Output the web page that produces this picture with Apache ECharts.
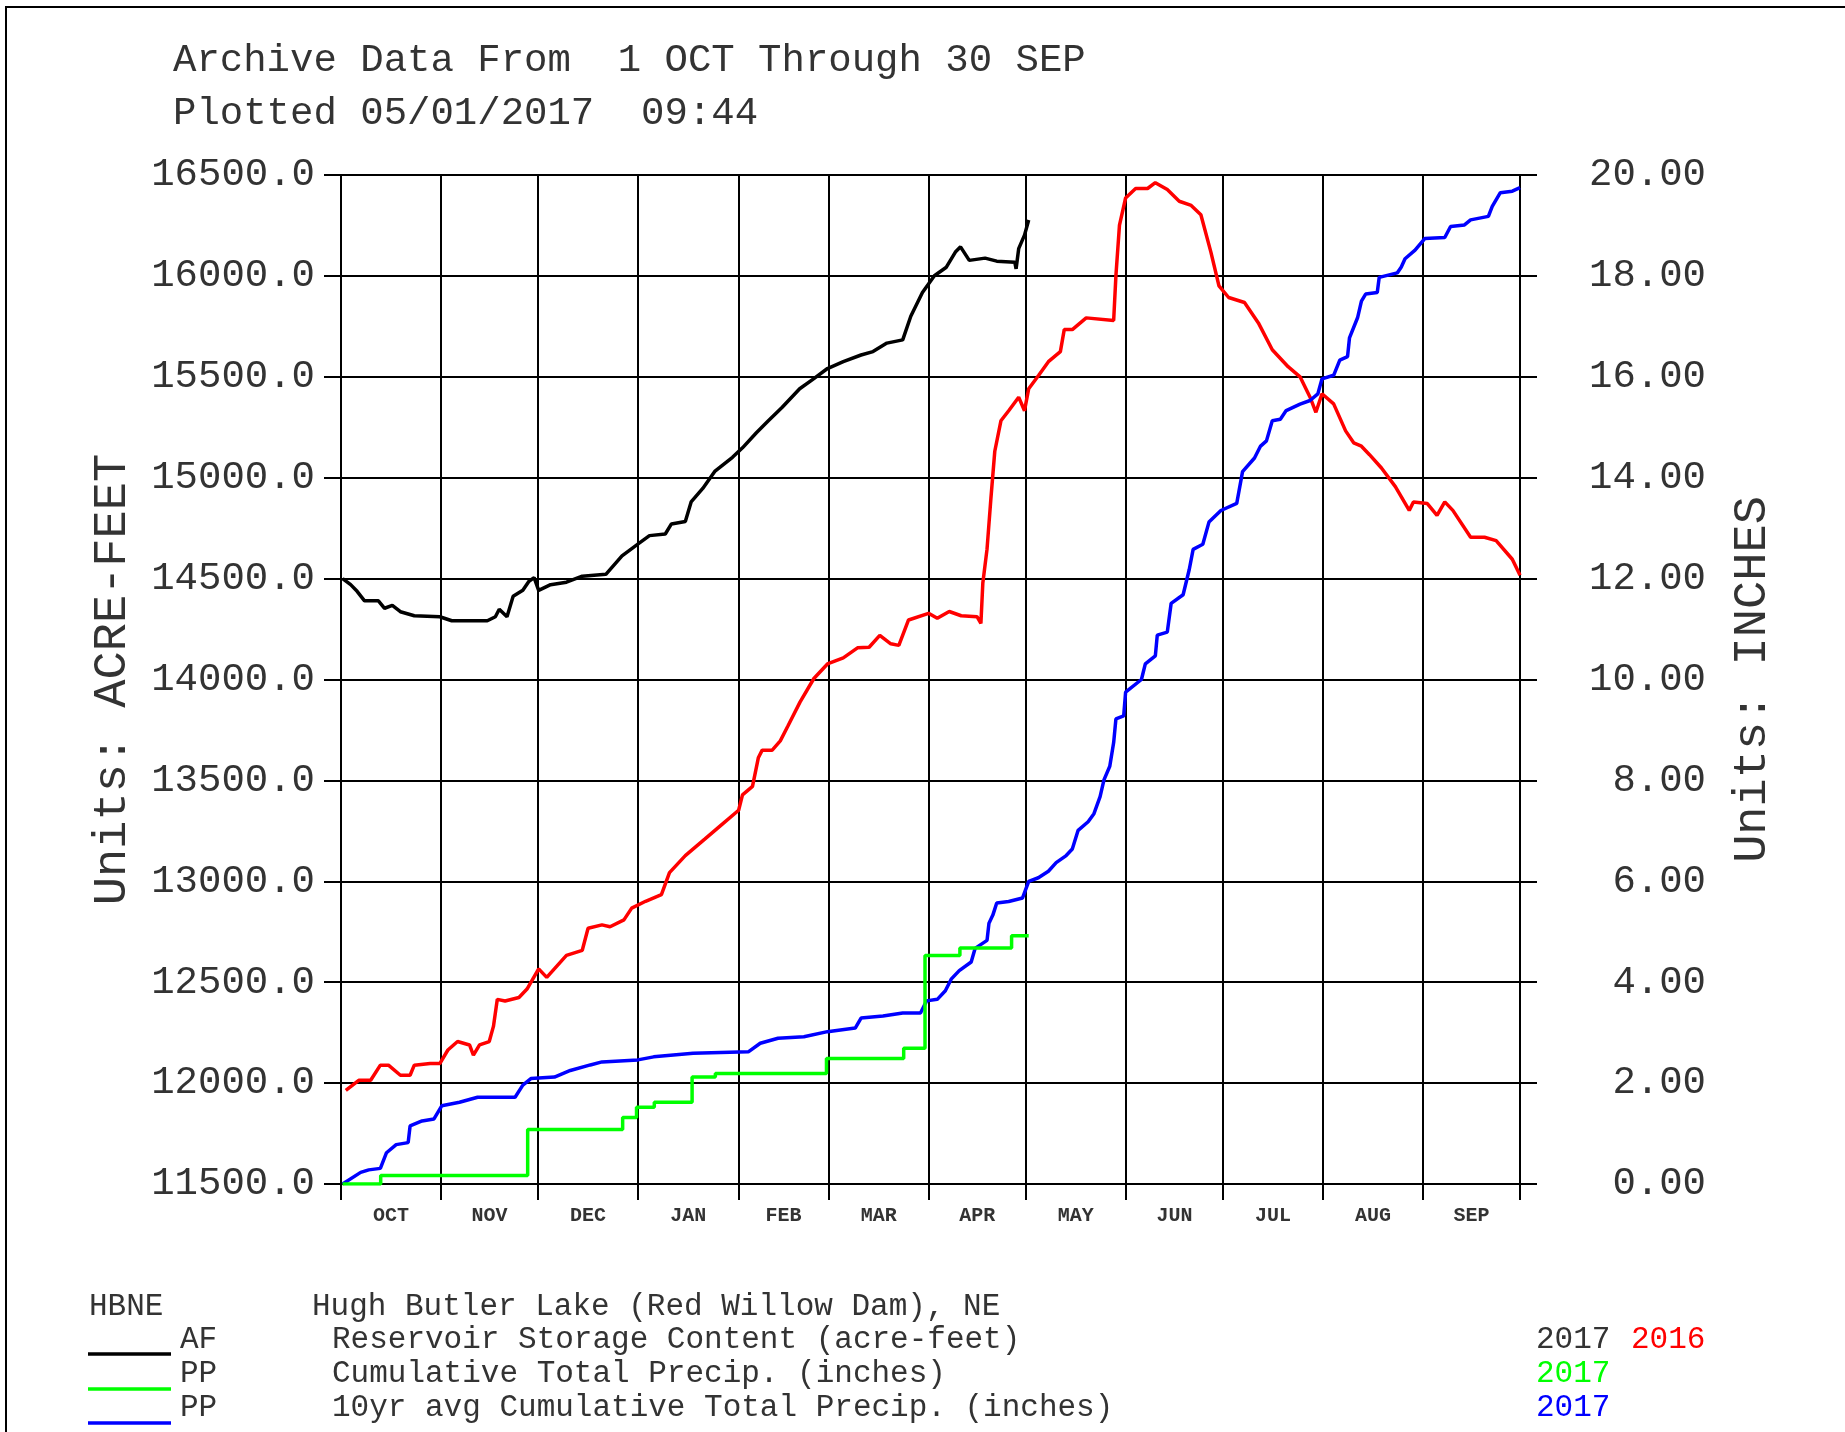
<!DOCTYPE html>
<html>
<head>
<meta charset="utf-8">
<title>HBNE Reservoir Storage</title>
<script src="https://cdn.jsdelivr.net/npm/echarts@6/dist/echarts.min.js"></script>
<style>
  html, body { margin: 0; padding: 0; background: #fff; }
  #chart { width: 1845px; height: 1432px; }
</style>
</head>
<body>
<div id="chart"></div>
<script>
// water year, x = days after 1 OCT
const months = ['OCT', 'NOV', 'DEC', 'JAN', 'FEB', 'MAR', 'APR', 'MAY', 'JUN', 'JUL', 'AUG', 'SEP'];
const monthStarts = [0, 31, 61, 92, 123, 151, 182, 212, 243, 273, 304, 335, 365];
const monthMids = months.map((m, i) => (monthStarts[i] + monthStarts[i + 1]) / 2);

// Reservoir storage content, acre-feet (2017, black)
const storage2017 = [
  [0.5, 14500], [3, 14470], [5, 14437], [7.3, 14390], [11.6, 14390], [13.5, 14353], [15.9, 14367],
  [18.4, 14336], [22.7, 14316], [30.6, 14311], [34.3, 14291], [45.3, 14291], [47.8, 14311], [49, 14348],
  [51.4, 14311], [53.3, 14412], [56.3, 14442], [58.2, 14487], [59.8, 14505], [61.2, 14442], [64.9, 14470],
  [69.8, 14482], [74.7, 14512], [82, 14521], [87, 14613], [91.9, 14671], [95.5, 14713], [100.4, 14721],
  [102.3, 14771], [106.6, 14783], [108.4, 14880], [112, 14947], [115.7, 15031], [121.2, 15101],
  [124.3, 15148], [128.6, 15223], [132.3, 15282], [136.6, 15349], [142, 15441], [146.4, 15491],
  [150.6, 15541], [155.5, 15575], [161, 15608], [164.7, 15625], [169, 15667], [173.9, 15683],
  [176.4, 15800], [180, 15918], [183.7, 16001], [187.4, 16043], [190.2, 16118], [191.8, 16144],
  [194.5, 16077], [199.4, 16088], [203, 16073], [208.6, 16068], [209, 16035], [209.8, 16135],
  [211.6, 16202], [212.9, 16277]
];

// Reservoir storage content, acre-feet (2016, red)
const storage2016 = [
  [1.5, 11964], [5.5, 12014], [9.2, 12014], [12.2, 12089], [14.7, 12089], [18.4, 12039], [21.4, 12039],
  [22.7, 12089], [27.6, 12097], [30.6, 12097], [33.1, 12164], [36.1, 12206], [39.8, 12189], [41, 12139],
  [42.9, 12189], [45.9, 12206], [47.2, 12281], [48.4, 12415], [50.8, 12407], [55.1, 12424], [57.6, 12466],
  [61.2, 12566], [63.7, 12524], [69.8, 12633], [74.7, 12658], [76.5, 12767], [80.8, 12784], [83.3, 12775],
  [87.6, 12809], [90, 12867], [94.3, 12901], [99.2, 12934], [101.7, 13043], [106.6, 13127], [112.7, 13210],
  [117.6, 13277], [123.1, 13352], [124.3, 13428], [127.4, 13470], [129.2, 13612], [130.4, 13650],
  [133.5, 13650], [136, 13696], [138.4, 13771], [142.1, 13888], [146.4, 14005], [150.6, 14077],
  [155.5, 14107], [159.9, 14157], [163.5, 14160], [166.8, 14219], [170.2, 14177], [172.7, 14169],
  [175.7, 14295], [181.9, 14328], [184.6, 14303], [188.3, 14337], [192, 14316], [196.9, 14311],
  [198.1, 14278], [198.7, 14478], [200, 14646], [201.2, 14897], [202.4, 15131], [204.3, 15282],
  [206.7, 15332], [209.8, 15399], [211.6, 15332], [212.9, 15441], [216, 15508], [219, 15575],
  [222.7, 15625], [223.9, 15734], [226.4, 15734], [230.7, 15792], [239.2, 15779], [239.9, 16001],
  [241, 16252], [242.9, 16386], [246, 16433], [249.7, 16433], [252.1, 16462], [255.8, 16428],
  [259.5, 16370], [263.2, 16349], [266.2, 16303], [269.3, 16118], [271.8, 15951], [274.8, 15893],
  [279.7, 15868], [284, 15767], [288.3, 15634], [293.2, 15550], [296.9, 15500], [300, 15399],
  [301.8, 15324], [303.7, 15416], [307.3, 15366], [311, 15232], [313.5, 15173], [315.9, 15156],
  [318.4, 15114], [322.1, 15048], [326.4, 14956], [330.7, 14838], [332, 14880], [336.3, 14872],
  [339.3, 14813], [341.7, 14880], [344.2, 14838], [349.7, 14705], [354, 14705], [357.6, 14688],
  [362.6, 14596], [365, 14517]
];

// Cumulative total precip, inches (2017, green) - steps
const precip2017 = [
  [0.5, 0], [12.3, 0.17], [57.8, 1.08], [87.2, 1.32], [91.5, 1.52], [97, 1.62], [108.7, 2.12],
  [115.9, 2.19], [150.3, 2.49], [174.2, 2.69], [180.8, 4.53], [191.6, 4.68], [207.6, 4.92], [212.9, 4.92]
];

// 10yr avg cumulative total precip, inches (blue)
const precipAvg = [
  [0.5, 0], [6.1, 0.23], [8.6, 0.28], [12.2, 0.31], [14.1, 0.62], [17.1, 0.78], [20.8, 0.82], [21.4, 1.15],
  [25.1, 1.25], [28.8, 1.29], [31.2, 1.55], [36.7, 1.62], [42.3, 1.72], [53.9, 1.72], [56.3, 1.96],
  [58.8, 2.09], [66.1, 2.12], [71, 2.25], [77.2, 2.36], [80.8, 2.42], [91.9, 2.46], [96.8, 2.52],
  [109, 2.59], [126.1, 2.62], [129.8, 2.79], [135.3, 2.89], [143.3, 2.92], [150.6, 3.02], [159.2, 3.09],
  [161, 3.29], [167.8, 3.33], [173.9, 3.39], [179.4, 3.39], [181.3, 3.63], [184.6, 3.66], [187.1, 3.83],
  [188.9, 4.06], [191.4, 4.23], [195.1, 4.40], [196.3, 4.67], [200, 4.83], [200.6, 5.17], [201.8, 5.33],
  [203, 5.57], [206.7, 5.60], [211, 5.67], [212.9, 6.00], [215.9, 6.07], [219, 6.20], [221.4, 6.37],
  [224.5, 6.51], [226.4, 6.64], [228.2, 7.01], [231.3, 7.18], [233.1, 7.34], [235, 7.68], [236.2, 8.01],
  [238, 8.28], [239.2, 8.75], [239.9, 9.22], [242.3, 9.28], [242.9, 9.75], [247.8, 10.0], [249, 10.31],
  [252.1, 10.47], [252.7, 10.88], [255.8, 10.94], [257, 11.51], [260.7, 11.68], [262.6, 12.18],
  [263.8, 12.58], [266.8, 12.68], [268.7, 13.12], [272.4, 13.35], [277.3, 13.49], [279.1, 14.12],
  [282.8, 14.39], [284.6, 14.62], [286.5, 14.73], [288.3, 15.13], [290.8, 15.16], [292.6, 15.33],
  [296.9, 15.46], [300, 15.53], [302.4, 15.66], [303.7, 15.96], [307.3, 16.03], [309.2, 16.33],
  [311.6, 16.40], [312.2, 16.77], [314.7, 17.17], [315.9, 17.50], [317.2, 17.64], [320.8, 17.67],
  [321.4, 17.97], [327, 18.06], [328.2, 18.17], [329.4, 18.34], [332.5, 18.51], [335.5, 18.74],
  [341.7, 18.76], [343.5, 18.98], [347.8, 19.01], [349.7, 19.11], [355.2, 19.18], [356.4, 19.38],
  [358.9, 19.65], [362.6, 19.68], [365, 19.75]
];

const MONO = '"Liberation Mono", "Courier New", monospace';
const TXT = '#333';

const chart = echarts.init(document.getElementById('chart'));

function txt(x, y, text, size, color) {
  return {
    type: 'text', x: x, y: y, silent: true,
    style: { text: text, font: size + 'px ' + MONO, fill: color || TXT, verticalAlign: 'middle', align: 'left' }
  };
}
function swatch(y, color) {
  return {
    type: 'line', silent: true,
    shape: { x1: 88, y1: y, x2: 171, y2: y },
    style: { stroke: color, lineWidth: 3.5 }
  };
}

const option = {
  animation: false,
  backgroundColor: '#fff',
  title: {
    text: 'Archive Data From  1 OCT Through 30 SEP\nPlotted 05/01/2017  09:44',
    left: 168,
    top: 29,
    textStyle: { fontFamily: MONO, fontSize: 39, fontWeight: 'normal', color: TXT, lineHeight: 53 }
  },
  grid: { left: 324, top: 175, width: 1213, height: 1009, containLabel: false, outerBoundsMode: 'none' },
  xAxis: {
    type: 'value',
    min: -5.25,
    max: 370.25,
    axisLine: { show: false },
    axisTick: { show: true, customValues: monthStarts, length: 16, lineStyle: { color: '#000', width: 2 } },
    splitLine: { show: true, lineStyle: { color: '#000', width: 2 } },
    axisLabel: {
      customValues: monthMids,
      margin: 22,
      fontFamily: MONO,
      fontWeight: 'bold',
      fontSize: 20,
      color: '#333',
      formatter: function (v) {
        let best = 0;
        monthMids.forEach((m, i) => { if (Math.abs(m - v) < Math.abs(monthMids[best] - v)) best = i; });
        return months[best];
      }
    }
  },
  yAxis: [
    {
      type: 'value',
      min: 11500,
      max: 16500,
      interval: 500,
      name: 'Units: ACRE-FEET',
      nameLocation: 'middle',
      nameRotate: 90,
      nameGap: 188,
      nameTextStyle: { fontFamily: MONO, fontSize: 47, color: TXT },
      axisLine: { show: false },
      axisTick: { show: false },
      splitLine: { show: true, lineStyle: { color: '#000', width: 2 } },
      axisLabel: {
        margin: 9, fontFamily: MONO, fontSize: 39, color: TXT, padding: [4, 0, 0, 0],
        formatter: v => v.toFixed(1)
      }
    },
    {
      type: 'value',
      position: 'right',
      min: 0,
      max: 20,
      interval: 2,
      name: 'Units: INCHES',
      nameLocation: 'middle',
      nameRotate: 90,
      nameGap: 192,
      nameTextStyle: { fontFamily: MONO, fontSize: 47, color: TXT },
      axisLine: { show: false },
      axisTick: { show: false },
      splitLine: { show: false },
      axisLabel: {
        margin: 169, align: 'right', fontFamily: MONO, fontSize: 39, color: TXT, padding: [4, 0, 0, 0],
        formatter: v => v.toFixed(2)
      }
    }
  ],
  series: [
    {
      name: 'AF 2016', type: 'line', yAxisIndex: 0, data: storage2016,
      showSymbol: false, lineStyle: { color: '#ff0000', width: 3.5 }, itemStyle: { color: '#ff0000' }, z: 3
    },
    {
      name: 'PP avg', type: 'line', yAxisIndex: 1, data: precipAvg,
      showSymbol: false, lineStyle: { color: '#0000ff', width: 3.5 }, itemStyle: { color: '#0000ff' }, z: 4
    },
    {
      name: 'PP 2017', type: 'line', yAxisIndex: 1, data: precip2017, step: 'end',
      showSymbol: false, lineStyle: { color: '#00ff00', width: 3.5 }, itemStyle: { color: '#00ff00' }, z: 4
    },
    {
      name: 'AF 2017', type: 'line', yAxisIndex: 0, data: storage2017,
      showSymbol: false, lineStyle: { color: '#000000', width: 3.5 }, itemStyle: { color: '#000' }, z: 5
    }
  ],
  graphic: [
    // page frame
    { type: 'rect', silent: true, shape: { x: 6, y: 7, width: 1900, height: 1500 },
      style: { fill: 'none', stroke: '#000', lineWidth: 2 } },
    txt(89, 1307, 'HBNE', 31),
    txt(312, 1307, 'Hugh Butler Lake (Red Willow Dam), NE', 31),
    txt(180, 1340, 'AF', 31),
    txt(332, 1340, 'Reservoir Storage Content (acre-feet)', 31),
    txt(1536, 1340, '2017', 31),
    txt(1631, 1340, '2016', 31, '#ff0000'),
    txt(180, 1374, 'PP', 31),
    txt(332, 1374, 'Cumulative Total Precip. (inches)', 31),
    txt(1536, 1374, '2017', 31, '#00ff00'),
    txt(180, 1408, 'PP', 31),
    txt(332, 1408, '10yr avg Cumulative Total Precip. (inches)', 31),
    txt(1536, 1408, '2017', 31, '#0000ff'),
    swatch(1354, '#000'),
    swatch(1389, '#00ff00'),
    swatch(1423, '#0000ff')
  ]
};

chart.setOption(option);
</script>
</body>
</html>
